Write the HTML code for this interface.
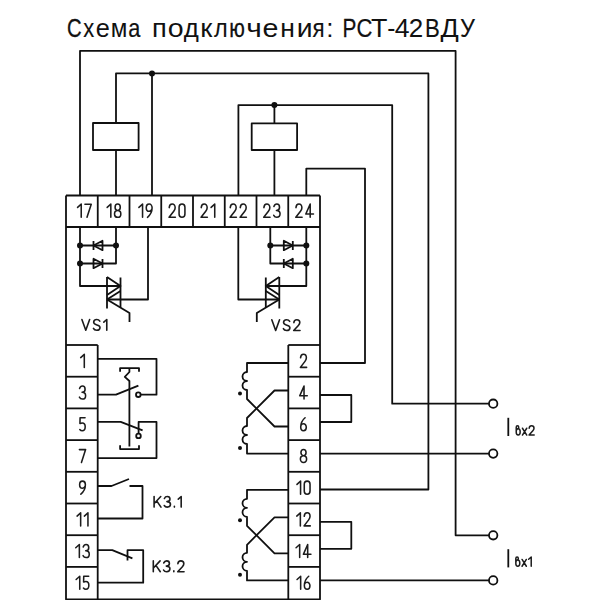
<!DOCTYPE html>
<html><head><meta charset="utf-8"><style>
html,body{margin:0;padding:0;background:#fff;width:600px;height:600px;overflow:hidden}
svg{display:block}
</style></head><body>
<svg width="600" height="600" viewBox="0 0 600 600">
<g stroke="#101010" stroke-width="1.8" fill="none" stroke-linecap="butt" stroke-linejoin="round">
<path d="M80 195.5 V50.9 H455.6 V535.3 H489" />
<path d="M116 123 V73.4 H428.4 V489.5 H320" />
<circle cx="152" cy="73.4" r="3" fill="#101010" stroke="none"/>
<path d="M152 73.4 V195.5" />
<rect x="93" y="123" width="45.6" height="27" />
<path d="M116 150 V195.5" />
<path d="M238.4 195.5 V105.1 H392.2 V403.7 H489" />
<circle cx="274.4" cy="105.1" r="3" fill="#101010" stroke="none"/>
<path d="M274.4 105 V123.4" />
<rect x="251.7" y="123.4" width="45.4" height="26.6" />
<path d="M274.4 150 V195.5" />
<path d="M306.3 195.5 V168.6 H365 V363 H320" />
<path d="M320 453.6 H489" />
<path d="M320 580.4 H489" />
<circle cx="493.2" cy="403.7" r="4.2" fill="#fff"/>
<circle cx="493.2" cy="453.6" r="4.2" fill="#fff"/>
<circle cx="493.2" cy="535.3" r="4.2" fill="#fff"/>
<circle cx="493.2" cy="580.4" r="4.2" fill="#fff"/>
<path d="M66 195.5 H320 M66 227 H320" />
<path d="M97.75 195.5 V227" />
<path d="M129.50 195.5 V227" />
<path d="M161.25 195.5 V227" />
<path d="M193.00 195.5 V227" />
<path d="M224.75 195.5 V227" />
<path d="M256.50 195.5 V227" />
<path d="M288.25 195.5 V227" />
<path d="M66 195.5 V599.3 H320 V195.5" />
<path d="M97.7 345 V599.3" />
<path d="M288.3 345 V599.3" />
<path d="M66 345.00 H97.7" />
<path d="M288.3 345.00 H320" />
<path d="M66 376.70 H97.7" />
<path d="M288.3 376.70 H320" />
<path d="M66 408.40 H97.7" />
<path d="M288.3 408.40 H320" />
<path d="M66 440.10 H97.7" />
<path d="M288.3 440.10 H320" />
<path d="M66 471.80 H97.7" />
<path d="M288.3 471.80 H320" />
<path d="M66 503.50 H97.7" />
<path d="M288.3 503.50 H320" />
<path d="M66 535.20 H97.7" />
<path d="M288.3 535.20 H320" />
<path d="M66 566.90 H97.7" />
<path d="M288.3 566.90 H320" />
<g><path d="M80 227 V286 H120.5"/><path d="M116 227 V263.5 H80"/><path d="M80 245.5 H116"/><path d="M93.5 241 V250 M102.5 240.8 V250.2 L93.5 245.5 Z"/><path d="M102.5 259 V268 M93.5 258.8 V268.2 L102.5 263.5 Z"/><path d="M107 277 V308.5 M120.5 277.5 V307.5"/><path d="M107 277 L120.5 286 L107 295"/><path d="M120.5 291 L107 299.5"/><path d="M107 299.5 L129.5 313 V322"/><path d="M107 299.5 H148 V227"/><circle cx="80" cy="245.5" r="3" fill="#101010" stroke="none"/><circle cx="116" cy="245.5" r="3" fill="#101010" stroke="none"/><circle cx="80" cy="263.5" r="3" fill="#101010" stroke="none"/></g>
<g transform="translate(386.3 0) scale(-1 1)"><path d="M80 227 V286 H120.5"/><path d="M116 227 V263.5 H80"/><path d="M80 245.5 H116"/><path d="M93.5 241 V250 M102.5 240.8 V250.2 L93.5 245.5 Z"/><path d="M102.5 259 V268 M93.5 258.8 V268.2 L102.5 263.5 Z"/><path d="M107 277 V308.5 M120.5 277.5 V307.5"/><path d="M107 277 L120.5 286 L107 295"/><path d="M120.5 291 L107 299.5"/><path d="M107 299.5 L129.5 313 V322"/><path d="M107 299.5 H148 V227"/><circle cx="80" cy="245.5" r="3" fill="#101010" stroke="none"/><circle cx="116" cy="245.5" r="3" fill="#101010" stroke="none"/><circle cx="80" cy="263.5" r="3" fill="#101010" stroke="none"/></g>
<path d="M97.7 358.8 H156.5 V394.7 H140.6" />
<circle cx="138.3" cy="394.7" r="2.3" />
<path d="M97.7 394.7 H116 L138.4 385.6" />
<path d="M120.1 371.8 V368.1 H139 V371.8" />
<path d="M129.4 368.1 V372 L124.8 376.8 L129.4 381 V446.4" />
<path d="M97.7 421.9 H120.7 L142.6 430.4" />
<path d="M97.7 458.1 H156.5 V421.9 H138.6 V433.6" />
<circle cx="138.5" cy="435.9" r="2.3" />
<path d="M120.1 445.3 V449.1 H139 V445.3" />
<path d="M97.7 486 H111.5 L129 479" />
<path d="M129.5 486 H142.5 V518.5 H97.7" />
<path d="M97.7 550.2 H112.3 L132.4 558.3" />
<path d="M127.5 560.5 V550.2 H143.2 V582.7 H97.7" />
<path d="M288.3 363 H247 V372 a4.5 4.5 0 0 0 0 9 a4.5 4.5 0 0 0 0 9 V399 L274.5 426.5 H288.3" stroke-linejoin="round"/>
<path d="M288.3 390.5 H274.5 L247 418 V426 a4.5 4.5 0 0 0 0 9 a4.5 4.5 0 0 0 0 9 V453.6 H288.3" stroke-linejoin="round"/>
<circle cx="240" cy="393.5" r="2" fill="#101010" stroke="none"/>
<circle cx="240" cy="448" r="2" fill="#101010" stroke="none"/>
<path d="M320 395 H351.3 V422 H320" />
<path d="M288.3 489.8 H247 V498.8 a4.5 4.5 0 0 0 0 9 a4.5 4.5 0 0 0 0 9 V525.8 L274.5 553.3 H288.3" stroke-linejoin="round"/>
<path d="M288.3 517.3 H274.5 L247 544.8 V552.8 a4.5 4.5 0 0 0 0 9 a4.5 4.5 0 0 0 0 9 V580.4 H288.3" stroke-linejoin="round"/>
<circle cx="240" cy="520.3" r="2" fill="#101010" stroke="none"/>
<circle cx="240" cy="574.8" r="2" fill="#101010" stroke="none"/>
<path d="M320 521.8 H351.3 V548.8 H320" />
<g font-family="Liberation Sans, sans-serif" fill="#111" stroke="none">
<text transform="translate(67.05 37) scale(0.780 1)" x="0" y="0" font-size="26" stroke="#111" stroke-width="0.31">С</text>
<text transform="translate(83.35 37) scale(0.847 1)" x="0" y="0" font-size="26" stroke="#111" stroke-width="0.19">х</text>
<text transform="translate(95.83 37) scale(0.975 1)" x="0" y="0" font-size="26">е</text>
<text transform="translate(110.63 37) scale(0.930 1)" x="0" y="0" font-size="26">м</text>
<text transform="translate(128.18 37) scale(0.836 1)" x="0" y="0" font-size="26" stroke="#111" stroke-width="0.21">а</text>
<text transform="translate(152.11 37) scale(1.048 1)" x="0" y="0" font-size="26">п</text>
<text transform="translate(167.79 37) scale(1.098 1)" x="0" y="0" font-size="26">о</text>
<text transform="translate(183.70 37) scale(0.993 1)" x="0" y="0" font-size="26">д</text>
<text transform="translate(200.29 37) scale(1.062 1)" x="0" y="0" font-size="26">к</text>
<text transform="translate(213.91 37) scale(0.902 1)" x="0" y="0" font-size="26" stroke="#111" stroke-width="0.09">л</text>
<text transform="translate(229.26 37) scale(0.801 1)" x="0" y="0" font-size="26" stroke="#111" stroke-width="0.27">ю</text>
<text transform="translate(246.31 37) scale(1.150 1)" x="0" y="0" font-size="26">ч</text>
<text transform="translate(262.54 37) scale(1.102 1)" x="0" y="0" font-size="26">е</text>
<text transform="translate(280.17 37) scale(1.019 1)" x="0" y="0" font-size="26">н</text>
<text transform="translate(296.63 37) scale(1.092 1)" x="0" y="0" font-size="26">и</text>
<text transform="translate(312.54 37) scale(0.858 1)" x="0" y="0" font-size="26" stroke="#111" stroke-width="0.16">я</text>
<text transform="translate(326.25 37) scale(1.000 1)" x="0" y="0" font-size="26">:</text>
<text transform="translate(342.42 37) scale(0.799 1)" x="0" y="0" font-size="26" stroke="#111" stroke-width="0.27">Р</text>
<text transform="translate(356.40 37) scale(0.848 1)" x="0" y="0" font-size="26" stroke="#111" stroke-width="0.18">С</text>
<text transform="translate(370.88 37) scale(1.034 1)" x="0" y="0" font-size="26">Т</text>
<text transform="translate(387.28 37) scale(0.937 1)" x="0" y="0" font-size="26">-</text>
<text transform="translate(394.79 37) scale(1.023 1)" x="0" y="0" font-size="26">4</text>
<text transform="translate(408.70 37) scale(1.000 1)" x="0" y="0" font-size="26">2</text>
<text transform="translate(425.11 37) scale(0.853 1)" x="0" y="0" font-size="26" stroke="#111" stroke-width="0.18">В</text>
<text transform="translate(440.39 37) scale(1.036 1)" x="0" y="0" font-size="26">Д</text>
<text transform="translate(459.97 37) scale(0.906 1)" x="0" y="0" font-size="26" stroke="#111" stroke-width="0.08">У</text>
</g>
<g fill="none" stroke="#1c1c1c" stroke-width="1.55" stroke-linecap="round" stroke-linejoin="round"><path transform="translate(77.57 204.07) scale(0.9138 0.9138)" d="M0 3.6 L4.0 0 V14.5" vector-effect="non-scaling-stroke"/><path transform="translate(84.93 204.07) scale(0.7418 0.9138)" d="M0 0.2 H8.5 L2.8 14.5" vector-effect="non-scaling-stroke"/></g>
<g fill="none" stroke="#1c1c1c" stroke-width="1.55" stroke-linecap="round" stroke-linejoin="round"><path transform="translate(107.17 204.07) scale(0.9138 0.9138)" d="M0 3.6 L4.0 0 V14.5" vector-effect="non-scaling-stroke"/><path transform="translate(114.53 204.07) scale(0.7418 0.9138)" d="M4.25 7 A3.5 3.5 0 1 1 4.25 0 A3.5 3.5 0 1 1 4.25 7 Z M4.25 14.5 A4.25 3.75 0 1 1 4.25 7 A4.25 3.75 0 1 1 4.25 14.5 Z" vector-effect="non-scaling-stroke"/></g>
<g fill="none" stroke="#1c1c1c" stroke-width="1.55" stroke-linecap="round" stroke-linejoin="round"><path transform="translate(138.90 204.07) scale(0.9138 0.9138)" d="M0 3.6 L4.0 0 V14.5" vector-effect="non-scaling-stroke"/><path transform="translate(146.25 204.07) scale(0.7310 0.9138)" d="M1.7 14.5 C5.1 12.2 8 8.9 8 4.1 C8 1.7 6.3 0 4 0 C1.8 0 0 1.7 0 3.9 C0 6.2 1.7 7.9 4 7.9 C5.6 7.9 7 7.1 7.6 5.8" vector-effect="non-scaling-stroke"/></g>
<g fill="none" stroke="#1c1c1c" stroke-width="1.55" stroke-linecap="round" stroke-linejoin="round"><path transform="translate(169.07 204.07) scale(0.7418 0.9138)" d="M0.2 3.9 C0.4 1.6 2.1 0 4.2 0 C6.5 0 8.2 1.7 8.2 3.9 C8.2 5.3 7.5 6.5 6.3 7.8 L0 14.5 H8.5" vector-effect="non-scaling-stroke"/><path transform="translate(179.08 204.07) scale(0.7310 0.9138)" d="M0 3.6 A4 3.6 0 0 1 8 3.6 V10.9 A4 3.6 0 0 1 0 10.9 Z" vector-effect="non-scaling-stroke"/></g>
<g fill="none" stroke="#1c1c1c" stroke-width="1.55" stroke-linecap="round" stroke-linejoin="round"><path transform="translate(201.07 204.07) scale(0.7418 0.9138)" d="M0.2 3.9 C0.4 1.6 2.1 0 4.2 0 C6.5 0 8.2 1.7 8.2 3.9 C8.2 5.3 7.5 6.5 6.3 7.8 L0 14.5 H8.5" vector-effect="non-scaling-stroke"/><path transform="translate(211.08 204.07) scale(0.9138 0.9138)" d="M0 3.6 L4.0 0 V14.5" vector-effect="non-scaling-stroke"/></g>
<g fill="none" stroke="#1c1c1c" stroke-width="1.55" stroke-linecap="round" stroke-linejoin="round"><path transform="translate(230.09 204.07) scale(0.7418 0.9138)" d="M0.2 3.9 C0.4 1.6 2.1 0 4.2 0 C6.5 0 8.2 1.7 8.2 3.9 C8.2 5.3 7.5 6.5 6.3 7.8 L0 14.5 H8.5" vector-effect="non-scaling-stroke"/><path transform="translate(240.10 204.07) scale(0.7418 0.9138)" d="M0.2 3.9 C0.4 1.6 2.1 0 4.2 0 C6.5 0 8.2 1.7 8.2 3.9 C8.2 5.3 7.5 6.5 6.3 7.8 L0 14.5 H8.5" vector-effect="non-scaling-stroke"/></g>
<g fill="none" stroke="#1c1c1c" stroke-width="1.55" stroke-linecap="round" stroke-linejoin="round"><path transform="translate(263.74 204.07) scale(0.7418 0.9138)" d="M0.2 3.9 C0.4 1.6 2.1 0 4.2 0 C6.5 0 8.2 1.7 8.2 3.9 C8.2 5.3 7.5 6.5 6.3 7.8 L0 14.5 H8.5" vector-effect="non-scaling-stroke"/><path transform="translate(273.75 204.07) scale(0.7418 0.9138)" d="M0.2 2.7 C0.9 1 2.4 0 4.1 0 C6.3 0 7.8 1.5 7.8 3.5 C7.8 5.5 6.1 7 3.6 7 C6.5 7 8.5 8.5 8.5 10.7 C8.5 12.9 6.6 14.5 4.1 14.5 C2.3 14.5 0.8 13.7 0 12.3" vector-effect="non-scaling-stroke"/></g>
<g fill="none" stroke="#1c1c1c" stroke-width="1.55" stroke-linecap="round" stroke-linejoin="round"><path transform="translate(295.81 204.07) scale(0.7418 0.9138)" d="M0.2 3.9 C0.4 1.6 2.1 0 4.2 0 C6.5 0 8.2 1.7 8.2 3.9 C8.2 5.3 7.5 6.5 6.3 7.8 L0 14.5 H8.5" vector-effect="non-scaling-stroke"/><path transform="translate(305.81 204.07) scale(0.7676 0.9138)" d="M5.7 0 L0 10.9 H10 M5.7 0 V14.5" vector-effect="non-scaling-stroke"/></g>
<g fill="none" stroke="#1c1c1c" stroke-width="1.55" stroke-linecap="round" stroke-linejoin="round"><path transform="translate(80.70 354.33) scale(0.9000 0.9000)" d="M0 3.6 L4.0 0 V14.5" vector-effect="non-scaling-stroke"/></g>
<g fill="none" stroke="#1c1c1c" stroke-width="1.55" stroke-linecap="round" stroke-linejoin="round"><path transform="translate(300.39 354.33) scale(0.7306 0.9000)" d="M0.2 3.9 C0.4 1.6 2.1 0 4.2 0 C6.5 0 8.2 1.7 8.2 3.9 C8.2 5.3 7.5 6.5 6.3 7.8 L0 14.5 H8.5" vector-effect="non-scaling-stroke"/></g>
<g fill="none" stroke="#1c1c1c" stroke-width="1.55" stroke-linecap="round" stroke-linejoin="round"><path transform="translate(79.40 386.03) scale(0.7306 0.9000)" d="M0.2 2.7 C0.9 1 2.4 0 4.1 0 C6.3 0 7.8 1.5 7.8 3.5 C7.8 5.5 6.1 7 3.6 7 C6.5 7 8.5 8.5 8.5 10.7 C8.5 12.9 6.6 14.5 4.1 14.5 C2.3 14.5 0.8 13.7 0 12.3" vector-effect="non-scaling-stroke"/></g>
<g fill="none" stroke="#1c1c1c" stroke-width="1.55" stroke-linecap="round" stroke-linejoin="round"><path transform="translate(299.72 386.03) scale(0.7560 0.9000)" d="M5.7 0 L0 10.9 H10 M5.7 0 V14.5" vector-effect="non-scaling-stroke"/></g>
<g fill="none" stroke="#1c1c1c" stroke-width="1.55" stroke-linecap="round" stroke-linejoin="round"><path transform="translate(79.80 417.73) scale(0.7105 0.9000)" d="M7.4 0 H0.4 L0.2 6.5 C1.1 6 2.2 5.8 3.4 5.8 C5.8 5.8 7.6 7.6 7.6 10.1 C7.6 12.6 5.8 14.5 3.4 14.5 C2.1 14.5 0.9 14 0 13.1" vector-effect="non-scaling-stroke"/></g>
<g fill="none" stroke="#1c1c1c" stroke-width="1.55" stroke-linecap="round" stroke-linejoin="round"><path transform="translate(300.71 417.73) scale(0.7154 0.9000)" d="M6.1 0 C2.7 2.3 0 5.6 0 10.4 C0 12.8 1.7 14.5 3.9 14.5 C6.1 14.5 7.8 12.8 7.8 10.6 C7.8 8.3 6.1 6.6 3.9 6.6 C2.3 6.6 0.9 7.4 0.3 8.7" vector-effect="non-scaling-stroke"/></g>
<g fill="none" stroke="#1c1c1c" stroke-width="1.55" stroke-linecap="round" stroke-linejoin="round"><path transform="translate(79.40 449.43) scale(0.7306 0.9000)" d="M0 0.2 H8.5 L2.8 14.5" vector-effect="non-scaling-stroke"/></g>
<g fill="none" stroke="#1c1c1c" stroke-width="1.55" stroke-linecap="round" stroke-linejoin="round"><path transform="translate(300.39 449.43) scale(0.7306 0.9000)" d="M4.25 7 A3.5 3.5 0 1 1 4.25 0 A3.5 3.5 0 1 1 4.25 7 Z M4.25 14.5 A4.25 3.75 0 1 1 4.25 7 A4.25 3.75 0 1 1 4.25 14.5 Z" vector-effect="non-scaling-stroke"/></g>
<g fill="none" stroke="#1c1c1c" stroke-width="1.55" stroke-linecap="round" stroke-linejoin="round"><path transform="translate(79.62 481.12) scale(0.7200 0.9000)" d="M1.7 14.5 C5.1 12.2 8 8.9 8 4.1 C8 1.7 6.3 0 4 0 C1.8 0 0 1.7 0 3.9 C0 6.2 1.7 7.9 4 7.9 C5.6 7.9 7 7.1 7.6 5.8" vector-effect="non-scaling-stroke"/></g>
<g fill="none" stroke="#1c1c1c" stroke-width="1.55" stroke-linecap="round" stroke-linejoin="round"><path transform="translate(296.97 481.12) scale(0.9000 0.9000)" d="M0 3.6 L4.0 0 V14.5" vector-effect="non-scaling-stroke"/><path transform="translate(304.27 481.12) scale(0.7200 0.9000)" d="M0 3.6 A4 3.6 0 0 1 8 3.6 V10.9 A4 3.6 0 0 1 0 10.9 Z" vector-effect="non-scaling-stroke"/></g>
<g fill="none" stroke="#1c1c1c" stroke-width="1.55" stroke-linecap="round" stroke-linejoin="round"><path transform="translate(77.05 512.83) scale(0.9000 0.9000)" d="M0 3.6 L4.0 0 V14.5" vector-effect="non-scaling-stroke"/><path transform="translate(84.35 512.83) scale(0.9000 0.9000)" d="M0 3.6 L4.0 0 V14.5" vector-effect="non-scaling-stroke"/></g>
<g fill="none" stroke="#1c1c1c" stroke-width="1.55" stroke-linecap="round" stroke-linejoin="round"><path transform="translate(296.75 512.83) scale(0.9000 0.9000)" d="M0 3.6 L4.0 0 V14.5" vector-effect="non-scaling-stroke"/><path transform="translate(304.05 512.83) scale(0.7306 0.9000)" d="M0.2 3.9 C0.4 1.6 2.1 0 4.2 0 C6.5 0 8.2 1.7 8.2 3.9 C8.2 5.3 7.5 6.5 6.3 7.8 L0 14.5 H8.5" vector-effect="non-scaling-stroke"/></g>
<g fill="none" stroke="#1c1c1c" stroke-width="1.55" stroke-linecap="round" stroke-linejoin="round"><path transform="translate(75.75 544.52) scale(0.9000 0.9000)" d="M0 3.6 L4.0 0 V14.5" vector-effect="non-scaling-stroke"/><path transform="translate(83.05 544.52) scale(0.7306 0.9000)" d="M0.2 2.7 C0.9 1 2.4 0 4.1 0 C6.3 0 7.8 1.5 7.8 3.5 C7.8 5.5 6.1 7 3.6 7 C6.5 7 8.5 8.5 8.5 10.7 C8.5 12.9 6.6 14.5 4.1 14.5 C2.3 14.5 0.8 13.7 0 12.3" vector-effect="non-scaling-stroke"/></g>
<g fill="none" stroke="#1c1c1c" stroke-width="1.55" stroke-linecap="round" stroke-linejoin="round"><path transform="translate(296.07 544.52) scale(0.9000 0.9000)" d="M0 3.6 L4.0 0 V14.5" vector-effect="non-scaling-stroke"/><path transform="translate(303.37 544.52) scale(0.7560 0.9000)" d="M5.7 0 L0 10.9 H10 M5.7 0 V14.5" vector-effect="non-scaling-stroke"/></g>
<g fill="none" stroke="#1c1c1c" stroke-width="1.55" stroke-linecap="round" stroke-linejoin="round"><path transform="translate(76.15 576.23) scale(0.9000 0.9000)" d="M0 3.6 L4.0 0 V14.5" vector-effect="non-scaling-stroke"/><path transform="translate(83.45 576.23) scale(0.7105 0.9000)" d="M7.4 0 H0.4 L0.2 6.5 C1.1 6 2.2 5.8 3.4 5.8 C5.8 5.8 7.6 7.6 7.6 10.1 C7.6 12.6 5.8 14.5 3.4 14.5 C2.1 14.5 0.9 14 0 13.1" vector-effect="non-scaling-stroke"/></g>
<g fill="none" stroke="#1c1c1c" stroke-width="1.55" stroke-linecap="round" stroke-linejoin="round"><path transform="translate(297.06 576.23) scale(0.9000 0.9000)" d="M0 3.6 L4.0 0 V14.5" vector-effect="non-scaling-stroke"/><path transform="translate(304.36 576.23) scale(0.7154 0.9000)" d="M6.1 0 C2.7 2.3 0 5.6 0 10.4 C0 12.8 1.7 14.5 3.9 14.5 C6.1 14.5 7.8 12.8 7.8 10.6 C7.8 8.3 6.1 6.6 3.9 6.6 C2.3 6.6 0.9 7.4 0.3 8.7" vector-effect="non-scaling-stroke"/></g>
<g fill="none" stroke="#1c1c1c" stroke-width="1.6" stroke-linecap="round" stroke-linejoin="round"><path transform="translate(81.90 319.50) scale(0.7448 0.7448)" d="M0 0 L5.2 14.5 L10.4 0" vector-effect="non-scaling-stroke"/><path transform="translate(93.45 319.50) scale(0.7448 0.7448)" d="M8.5 2.3 C7.7 0.9 6.2 0 4.4 0 C2 0 0.3 1.6 0.3 3.8 C0.3 8.4 8.8 6.3 8.8 10.7 C8.8 12.9 6.9 14.5 4.3 14.5 C2.3 14.5 0.7 13.6 0 12" vector-effect="non-scaling-stroke"/><path transform="translate(103.80 319.50) scale(0.7448 0.7448)" d="M0 3.6 L4.0 0 V14.5" vector-effect="non-scaling-stroke"/></g>
<g fill="none" stroke="#1c1c1c" stroke-width="1.6" stroke-linecap="round" stroke-linejoin="round"><path transform="translate(271.80 319.70) scale(0.7448 0.7448)" d="M0 0 L5.2 14.5 L10.4 0" vector-effect="non-scaling-stroke"/><path transform="translate(283.35 319.70) scale(0.7448 0.7448)" d="M8.5 2.3 C7.7 0.9 6.2 0 4.4 0 C2 0 0.3 1.6 0.3 3.8 C0.3 8.4 8.8 6.3 8.8 10.7 C8.8 12.9 6.9 14.5 4.3 14.5 C2.3 14.5 0.7 13.6 0 12" vector-effect="non-scaling-stroke"/><path transform="translate(293.70 319.70) scale(0.7448 0.7448)" d="M0.2 3.9 C0.4 1.6 2.1 0 4.2 0 C6.5 0 8.2 1.7 8.2 3.9 C8.2 5.3 7.5 6.5 6.3 7.8 L0 14.5 H8.5" vector-effect="non-scaling-stroke"/></g>
<g fill="none" stroke="#1c1c1c" stroke-width="1.6" stroke-linecap="round" stroke-linejoin="round"><path transform="translate(154.10 496.50) scale(0.7310 0.7310)" d="M0 0 V14.5 M9.1 0 L0.2 9.6 M3.5 6 L9.4 14.5" vector-effect="non-scaling-stroke"/><path transform="translate(164.27 496.50) scale(0.7310 0.7310)" d="M0.2 2.7 C0.9 1 2.4 0 4.1 0 C6.3 0 7.8 1.5 7.8 3.5 C7.8 5.5 6.1 7 3.6 7 C6.5 7 8.5 8.5 8.5 10.7 C8.5 12.9 6.6 14.5 4.1 14.5 C2.3 14.5 0.8 13.7 0 12.3" vector-effect="non-scaling-stroke"/><path transform="translate(173.79 496.50) scale(0.7310 0.7310)" d="M0.8 13.3 V14.5" vector-effect="non-scaling-stroke"/><path transform="translate(178.26 496.50) scale(0.7310 0.7310)" d="M0 3.6 L4.0 0 V14.5" vector-effect="non-scaling-stroke"/></g>
<g fill="none" stroke="#1c1c1c" stroke-width="1.6" stroke-linecap="round" stroke-linejoin="round"><path transform="translate(153.30 560.90) scale(0.7448 0.7448)" d="M0 0 V14.5 M9.1 0 L0.2 9.6 M3.5 6 L9.4 14.5" vector-effect="non-scaling-stroke"/><path transform="translate(163.60 560.90) scale(0.7448 0.7448)" d="M0.2 2.7 C0.9 1 2.4 0 4.1 0 C6.3 0 7.8 1.5 7.8 3.5 C7.8 5.5 6.1 7 3.6 7 C6.5 7 8.5 8.5 8.5 10.7 C8.5 12.9 6.6 14.5 4.1 14.5 C2.3 14.5 0.8 13.7 0 12.3" vector-effect="non-scaling-stroke"/><path transform="translate(173.23 560.90) scale(0.7448 0.7448)" d="M0.8 13.3 V14.5" vector-effect="non-scaling-stroke"/><path transform="translate(177.72 560.90) scale(0.7448 0.7448)" d="M0.2 3.9 C0.4 1.6 2.1 0 4.2 0 C6.5 0 8.2 1.7 8.2 3.9 C8.2 5.3 7.5 6.5 6.3 7.8 L0 14.5 H8.5" vector-effect="non-scaling-stroke"/></g>
<g fill="none" stroke="#1c1c1c" stroke-width="1.5" stroke-linecap="round" stroke-linejoin="round"><path transform="translate(516.05 425.75) scale(0.5949 0.6414)" d="M0.3 9 C0.3 6.6 1.8 4.7 3.6 4.7 C5.4 4.7 6.9 6.6 6.9 9 V10.3 C6.9 12.6 5.4 14.5 3.6 14.5 C1.8 14.5 0.3 12.6 0.3 10.3 Z M0.3 9 V2.3 C0.3 1 1.2 0 2.4 0 C3.6 0 4.5 1 4.5 2.3 C4.5 3.6 3.7 4.6 2.6 4.8" vector-effect="non-scaling-stroke"/><path transform="translate(522.45 425.75) scale(0.5968 0.6414)" d="M0 3.9 L7.2 14.5 M7.2 3.9 L0 14.5" vector-effect="non-scaling-stroke"/><path transform="translate(529.05 425.75) scale(0.6037 0.6414)" d="M0.2 3.9 C0.4 1.6 2.1 0 4.2 0 C6.5 0 8.2 1.7 8.2 3.9 C8.2 5.3 7.5 6.5 6.3 7.8 L0 14.5 H8.5" vector-effect="non-scaling-stroke"/></g>
<g fill="none" stroke="#1c1c1c" stroke-width="1.5" stroke-linecap="round" stroke-linejoin="round"><path transform="translate(515.65 556.95) scale(0.5949 0.6414)" d="M0.3 9 C0.3 6.6 1.8 4.7 3.6 4.7 C5.4 4.7 6.9 6.6 6.9 9 V10.3 C6.9 12.6 5.4 14.5 3.6 14.5 C1.8 14.5 0.3 12.6 0.3 10.3 Z M0.3 9 V2.3 C0.3 1 1.2 0 2.4 0 C3.6 0 4.5 1 4.5 2.3 C4.5 3.6 3.7 4.6 2.6 4.8" vector-effect="non-scaling-stroke"/><path transform="translate(522.05 556.95) scale(0.5968 0.6414)" d="M0 3.9 L7.2 14.5 M7.2 3.9 L0 14.5" vector-effect="non-scaling-stroke"/><path transform="translate(528.65 556.95) scale(0.6414 0.6414)" d="M0 3.6 L4.0 0 V14.5" vector-effect="non-scaling-stroke"/></g>
<g>
</g>
<path d="M508.3 417.8 V436" />
<path d="M508.3 549.2 V567.4" />
</g>
</svg>
</body></html>
